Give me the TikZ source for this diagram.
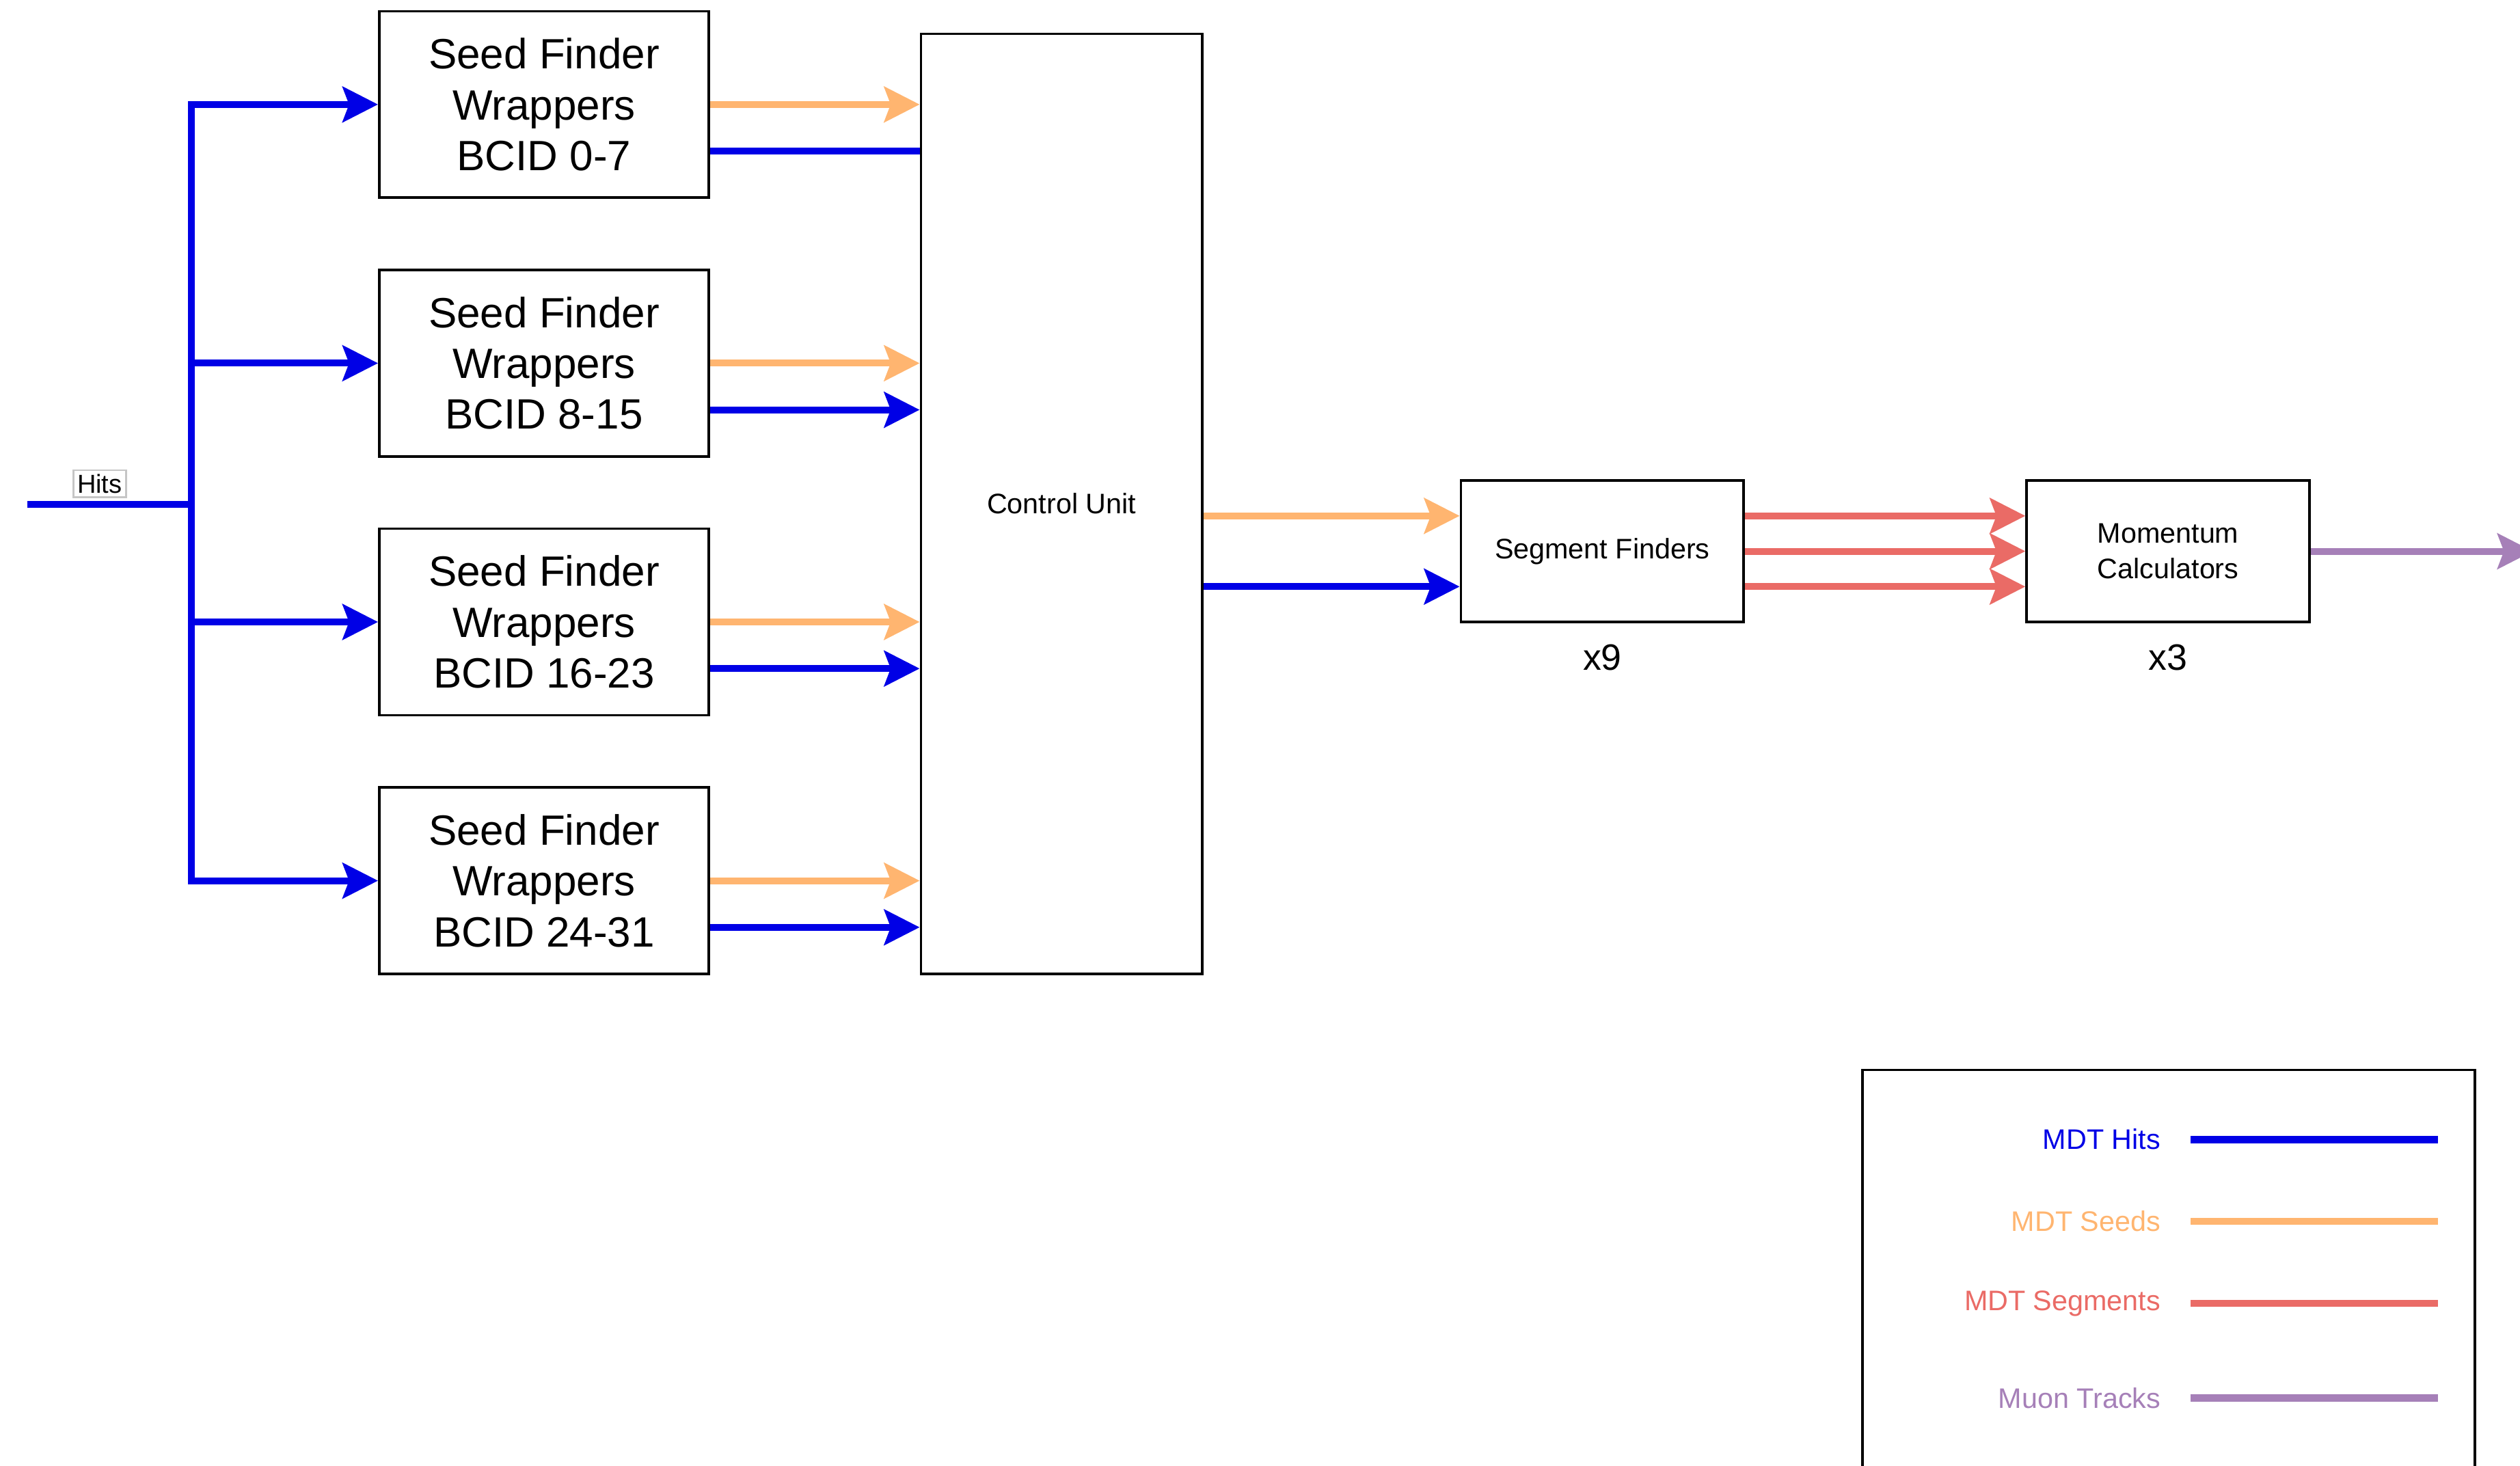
\documentclass[tikz,border=0pt]{standalone}
\usepackage{fontspec}
\setmainfont{Liberation Sans}
\usepackage{tikz}
\usetikzlibrary{arrows.meta,positioning,calc}
\definecolor{HB}{HTML}{0000E6}
\definecolor{SO}{HTML}{FFB570}
\definecolor{SR}{HTML}{EA6B66}
\definecolor{TP}{HTML}{A680B8}

\tikzset{
  blk/.style={draw=black, line width=0.45pt, fill=white,
              align=center, inner sep=0pt},
  wrapbox/.style={blk, minimum width=2.05cm, minimum height=1.16cm,
                  font=\fontsize{7.5}{9}\selectfont},
  smallbox/.style={blk, minimum width=1.76cm, minimum height=0.88cm,
                   font=\fontsize{5}{6.3}\selectfont},
  hitsln/.style={HB, line width=1.2pt},
  seedln/.style={SO, line width=1.2pt},
  segln/.style={SR, line width=1.2pt},
  trkln/.style={TP, line width=1.2pt},
  arr/.style={-{Stealth[length=2.2mm,width=2.2mm,inset=0.4mm]}}
}

\begin{document}
\begin{tikzpicture}

        \useasboundingbox (0,0) rectangle (15.68,-9.12);
        \clip (0,0) rectangle (15.68,-9.12);

        %% ── blocks ─────────────────────────────────────

        %% seed finder wrappers
        \foreach \i/\lbl in {1/0-7, 2/8-15, 3/16-23, 4/24-31}{
          \node[wrapbox] (sfw\i)
            at (3.385, {-0.65-1.61*(\i-1)})
            {Seed Finder\\Wrappers\\BCID \lbl};
        }

        %% control unit
        \node[blk, minimum width=1.75cm, minimum height=5.85cm,
              font=\fontsize{5}{6}\selectfont]
          (ctrl) at (6.605,-3.135) {Control Unit};

        %% segment finders / momentum calculators
        \node[smallbox] (segf) at (9.97,-3.43) {Segment Finders};
        \node[smallbox] (momc) at (13.49,-3.43) {Momentum\\Calculators};
        \node[font=\fontsize{6.5}{7}\selectfont] (segx)
          at (9.97,-4.09) {x9};
        \node[font=\fontsize{6.5}{7}\selectfont] (momx)
          at (13.49,-4.09) {x3};

        %% ── hits in ────────────────────────────────────
        \coordinate (hin) at (0.17,-3.14);
        \coordinate (bus) at (1.19,-3.14);
        \draw[hitsln] (hin) -- (bus);
        \draw[hitsln, line cap=rect]
          (bus |- sfw1.west) -- (bus |- sfw4.west);
        \node[draw=gray!45, line width=0.3pt, fill=white,
              inner sep=0.7pt, font=\fontsize{4.6}{5}\selectfont]
          (hitslbl) at (0.62,-3.01) {Hits};

        \foreach \i in {1,...,4}
          \draw[hitsln, arr] (bus |- sfw\i.west) -- (sfw\i.west);

        %% ── wrappers → control unit ────────────────────
        \foreach \i in {1,...,4}
          \draw[seedln, arr] (sfw\i.east) -- (sfw\i.east -| ctrl.west);
        \draw[hitsln] ([yshift=-0.29cm]sfw1.east)
          -- ([yshift=-0.29cm]sfw1.east -| ctrl.west);
        \foreach \i in {2,3,4}
          \draw[hitsln, arr] ([yshift=-0.29cm]sfw\i.east)
            -- ([yshift=-0.29cm]sfw\i.east -| ctrl.west);

        %% ── control unit → segment finders ─────────────
        \draw[seedln, arr] ([yshift=0.22cm]segf.west -| ctrl.east)
          -- ([yshift=0.22cm]segf.west);
        \draw[hitsln, arr] ([yshift=-0.22cm]segf.west -| ctrl.east)
          -- ([yshift=-0.22cm]segf.west);

        %% ── segments → momentum ────────────────────────
        \foreach \dy in {0.22,0,-0.22}
          \draw[segln, arr] ([yshift=\dy cm]segf.east)
            -- ([yshift=\dy cm]momc.west);

        \coordinate (trkout) at (15.76,-3.43);
        \draw[trkln, arr] (momc.east) -- (trkout);

        %% ── legend ─────────────────────────────────────
        \node[draw=black, line width=0.45pt, anchor=north west,
              minimum width=3.81cm, minimum height=2.8cm]
          (legend) at (11.58,-6.65) {};
        \foreach \nm/\txt/\col/\yy in {lhits/MDT Hits/HB/7.09,
                                     lseed/MDT Seeds/SO/7.60,
                                     lseg/MDT Segments/SR/8.11,
                                     ltrk/Muon Tracks/TP/8.70}{
          \node[anchor=east, text=\col, inner sep=0pt,
                font=\fontsize{5}{6}\selectfont]
            (\nm) at (13.45,-\yy) {\txt};
          \draw[\col, line width=1.3pt]
            ([xshift=0.18cm]\nm.east) -- ++(1.54,0);
        }

\end{tikzpicture}
\end{document}
